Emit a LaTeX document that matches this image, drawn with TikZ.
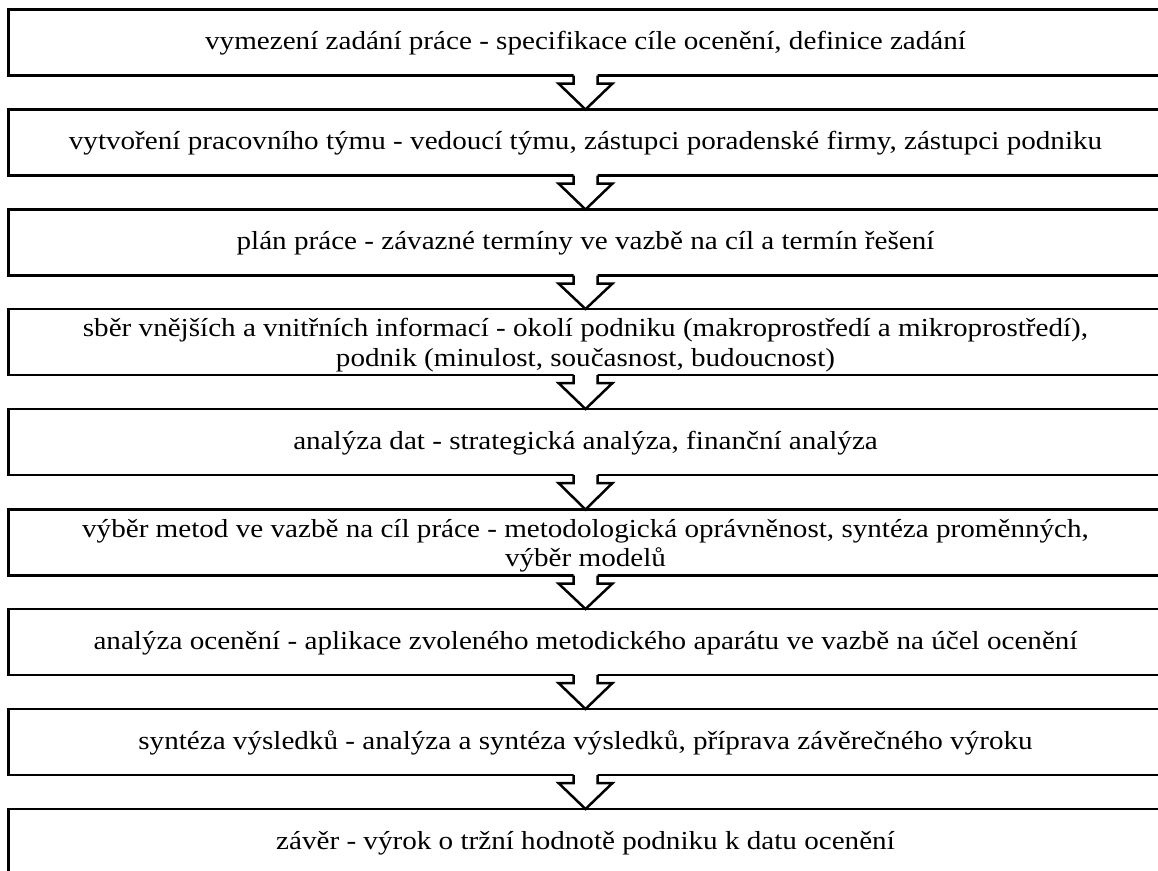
\documentclass[tikz,border=0pt]{standalone}
\usepackage{fontspec}
\setmainfont{Liberation Serif}[FakeStretch=1.12]
\begin{document}
\begin{tikzpicture}[x=1pt,y=-1pt,
  box/.style={draw, line width=2.5pt, rectangle, anchor=north west,
    minimum width=1154pt, minimum height=66pt, inner sep=0pt, outer sep=0pt},
  lbl/.style={anchor=base, inner sep=0pt, font=\fontsize{26}{30}\selectfont},
  arrowline/.style={line width=2.5pt, line join=miter}]
\useasboundingbox (0,0) rectangle (1158,870);
\clip (0,0) rectangle (1158,870);
\node[box] (b1) at (8.5,9.5) {};
\node[box] (b2) at (8.5,109.5) {};
\node[box] (b3) at (8.5,209.5) {};
\node[box] (b4) at (8.5,309) {};
\node[box] (b5) at (8.5,409) {};
\node[box] (b6) at (8.5,509.5) {};
\node[box] (b7) at (8.5,609) {};
\node[box] (b8) at (8.5,709) {};
\node[box] (b9) at (8.5,809) {};
\node[lbl] (t1) at ([yshift=-40pt]b1.north) {vymezení zadání práce - specifikace cíle ocenění, definice zadání};
\node[lbl] (t2) at ([yshift=-40pt]b2.north) {vytvoření pracovního týmu - vedoucí týmu, zástupci poradenské firmy, zástupci podniku};
\node[lbl] (t3) at ([yshift=-40pt]b3.north) {plán práce - závazné termíny ve vazbě na cíl a termín řešení};
\node[lbl] (t4a) at ([yshift=-27.5pt]b4.north) {sběr vnějších a vnitřních informací - okolí podniku (makroprostředí a mikroprostředí),};
\node[lbl] (t4b) at ([yshift=-57pt]b4.north) {podnik (minulost, současnost, budoucnost)};
\node[lbl] (t5) at ([yshift=-40pt]b5.north) {analýza dat - strategická analýza, finanční analýza};
\node[lbl] (t6a) at ([yshift=-27.5pt]b6.north) {výběr metod ve vazbě na cíl práce - metodologická oprávněnost, syntéza proměnných,};
\node[lbl] (t6b) at ([yshift=-57pt]b6.north) {výběr modelů};
\node[lbl] (t7) at ([yshift=-40pt]b7.north) {analýza ocenění - aplikace zvoleného metodického aparátu ve vazbě na účel ocenění};
\node[lbl] (t8) at ([yshift=-40pt]b8.north) {syntéza výsledků - analýza a syntéza výsledků, příprava závěrečného výroku};
\node[lbl] (t9) at ([yshift=-40pt]b9.north) {závěr - výrok o tržní hodnotě podniku k datu ocenění};
\foreach \a/\b in {b1/b2,b2/b3,b3/b4,b4/b5,b5/b6,b6/b7,b7/b8,b8/b9}{
  \fill[white] ([shift={(-12,-2)}]\a.south) -- ([shift={(-12,8)}]\a.south)
    -- ([shift={(-27,8)}]\a.south) -- (\b.north) -- ([shift={(27,8)}]\a.south)
    -- ([shift={(12,8)}]\a.south) -- ([shift={(12,-2)}]\a.south) -- cycle;
  \draw[arrowline] ([xshift=-12pt]\a.south) -- ([shift={(-12,8)}]\a.south)
    -- ([shift={(-27,8)}]\a.south) -- (\b.north) -- ([shift={(27,8)}]\a.south)
    -- ([shift={(12,8)}]\a.south) -- ([xshift=12pt]\a.south);
}
\end{tikzpicture}
\end{document}
